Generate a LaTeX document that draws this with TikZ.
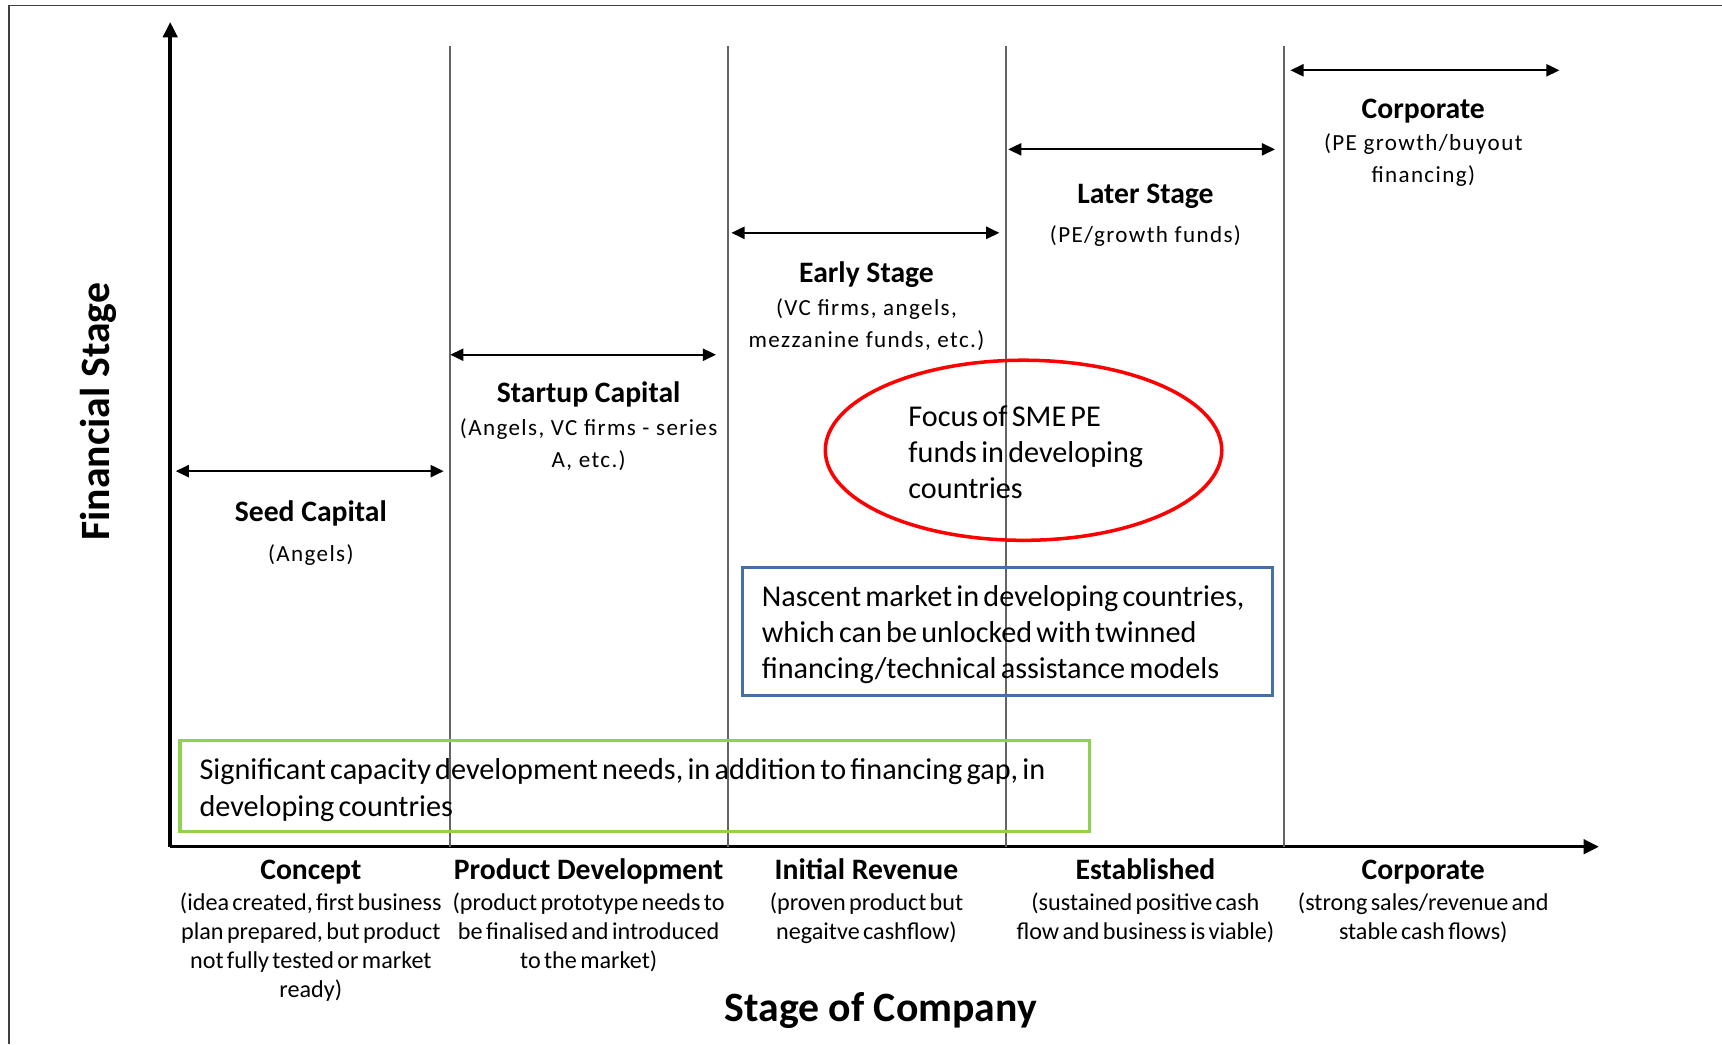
\documentclass[tikz,border=0pt]{standalone}
\usepackage{fontspec}
\setmainfont{Carlito}
\newfontfamily\spacedfont[LetterSpace=6]{Carlito}
\newfontfamily\tightfont[WordSpace=0.55]{Carlito}
\newfontfamily\boxfont[WordSpace=0.62]{Carlito}
\usetikzlibrary{arrows.meta,shapes.geometric}

\definecolor{frameblue}{RGB}{70,112,165}
\definecolor{framegreen}{RGB}{146,208,80}
\definecolor{divgray}{RGB}{100,100,100}

\tikzset{
  axis/.style={line width=3.2pt,-{Triangle[length=14pt,width=13pt]}},
  divider/.style={draw=divgray,line width=1.6pt},
  span/.style={line width=2pt,{Triangle[length=12pt,width=11pt]}-{Triangle[length=12pt,width=11pt]}},
  stagehead/.style={font=\fontsize{27}{32}\selectfont\bfseries,text height=0.72em,text depth=0.22em},
  fundnote/.style={align=center,font=\fontsize{21}{29}\selectfont\spacedfont},
  stagenote/.style={align=center,font=\fontsize{22}{26.6}\selectfont\tightfont},
  boxtext/.style={font=\fontsize{27.5}{33}\selectfont\boxfont,align=left,inner sep=0pt,anchor=west},
  axistitle/.style={font=\fontsize{38}{44}\selectfont\bfseries},
}

\begin{document}
\begin{tikzpicture}[x=1pt,y=-1pt]
\useasboundingbox (0,0) rectangle (1568,951);

% outer frame (top and left edges)
\draw[line width=1.6pt,draw=black!75] (8,951) -- (8,5) -- (1568,5);

% axes
\coordinate (origin) at (155,771);
\coordinate (ytip) at (155,20);
\coordinate (xtip) at (1456,771);
\draw[axis] (origin) -- (ytip);
\draw[axis] (origin) -- (xtip);

% stage dividers
\foreach \x/\n in {410/a,663/b,916/c,1169/d}{
  \coordinate (top\n) at (\x,42);
  \coordinate (bot\n) at (\x,771);
  \draw[divider] (top\n) -- (bot\n);
}

% financing ranges
\coordinate (seedL) at (160,429);  \coordinate (seedR) at (404,429);
\coordinate (startL) at (410,323); \coordinate (startR) at (652,323);
\coordinate (earlyL) at (666,212); \coordinate (earlyR) at (910,212);
\coordinate (laterL) at (918,136); \coordinate (laterR) at (1161,136);
\coordinate (corpL) at (1175,64);  \coordinate (corpR) at (1420,64);
\draw[span] (seedL) -- (seedR);
\draw[span] (startL) -- (startR);
\draw[span] (earlyL) -- (earlyR);
\draw[span] (laterL) -- (laterR);
\draw[span] (corpL) -- (corpR);

% financing labels
\node[stagehead] (seedT) at (283,472) {Seed Capital};
\node[fundnote] (seedN) at (283,505) {(Angels)};
\node[stagehead] (startT) at (536,364) {Startup Capital};
\node[fundnote] (startN) at (536,405) {(Angels, VC firms - series\\A, etc.)};
\node[stagehead] (earlyT) at (789,255) {Early Stage};
\node[fundnote] (earlyN) at (789,296) {(VC firms, angels,\\mezzanine funds, etc.)};
\node[stagehead] (laterT) at (1043,183) {Later Stage};
\node[fundnote] (laterN) at (1043,215) {(PE/growth funds)};
\node[stagehead] (corpT) at (1296,105) {Corporate};
\node[fundnote] (corpN) at (1296,146) {(PE growth/buyout\\financing)};

% focus area
\node[ellipse,draw=red,line width=3.2pt,minimum width=361pt,minimum height=164pt] (focus) at (932,410) {};
\node[boxtext] (focusT) at (827,412) {Focus of SME PE\\funds in developing\\countries};

% nascent market box
\node[draw=frameblue,line width=3pt,minimum width=483pt,minimum height=116pt] (nascent) at (917.5,575) {};
\node[boxtext] (nascentT) at ([xshift=19pt,yshift=-3pt]nascent.west)
  {Nascent market in developing countries,\\which can be unlocked with twinned\\financing/technical assistance models};

% capacity box
\node[draw=framegreen,line width=3pt,minimum width=828pt,minimum height=83pt] (capacity) at (578,715.5) {};
\node[boxtext] (capacityT) at ([xshift=19pt,yshift=-4pt]capacity.west)
  {Significant capacity development needs, in addition to financing gap, in\\developing countries};

% company stages
\node[stagehead] (s1) at (283,798) {Concept};
\node[stagenote,anchor=north] (s1n) at (283,809) {(idea created, first business\\plan prepared, but product\\not fully tested or market\\ready)};
\node[stagehead] (s2) at (536,798) {Product Development};
\node[stagenote,anchor=north] (s2n) at (536,809) {(product prototype needs to\\be finalised and introduced\\to the market)};
\node[stagehead] (s3) at (789,798) {Initial Revenue};
\node[stagenote,anchor=north] (s3n) at (789,809) {(proven product but\\negaitve cashflow)};
\node[stagehead] (s4) at (1043,798) {Established};
\node[stagenote,anchor=north] (s4n) at (1043,809) {(sustained positive cash\\flow and business is viable)};
\node[stagehead] (s5) at (1296,798) {Corporate};
\node[stagenote,anchor=north] (s5n) at (1296,809) {(strong sales/revenue and\\stable cash flows)};

% axis titles
\node[axistitle] (xtitle) at (802,920) {Stage of Company};
\node[axistitle,rotate=90] (ytitle) at (90,375) {Financial Stage};
\end{tikzpicture}
\end{document}
